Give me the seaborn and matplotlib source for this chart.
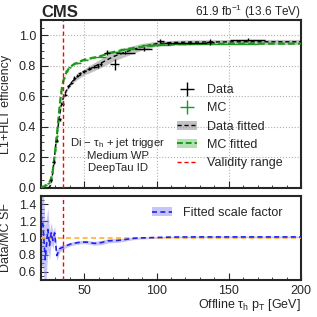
import numpy as np
import pandas as pd
import matplotlib
matplotlib.use("Agg")
import matplotlib.pyplot as plt
import seaborn as sns
from matplotlib.lines import Line2D
from matplotlib.patches import Patch
from matplotlib.ticker import MultipleLocator

# ---------------- data ----------------
data_x = [27, 29, 31, 33, 35, 37, 39, 41, 43, 45, 47, 50, 53.5, 57, 59.5, 61.5, 65.5, 71, 78.5, 91, 102.5, 108, 123, 137, 163]
data_y = [0.05, 0.17, 0.31, 0.45, 0.55, 0.61, 0.665, 0.69, 0.72, 0.735, 0.75, 0.765, 0.78, 0.795, 0.80, 0.81, 0.886, 0.81, 0.886, 0.91, 0.963, 0.947, 0.95, 0.956, 0.97]
data_xerr = [1, 1, 1, 1, 1, 1, 1, 1, 1, 1, 1, 1.5, 1.5, 1.5, 1, 1, 2, 3, 6.5, 6, 2.5, 3, 12, 3, 12]
data_yerr = [0.01, 0.01, 0.01, 0.01, 0.01, 0.01, 0.01, 0.01, 0.01, 0.01, 0.01, 0.01, 0.01, 0.012, 0.012, 0.012, 0.015, 0.035, 0.012, 0.012, 0.012, 0.01, 0.01, 0.02, 0.01]

mc_x = [21, 23, 25, 27, 28, 29, 30, 31, 32, 33, 34, 36, 38, 40, 45, 50, 60, 70, 80, 100, 120, 150]
mc_y = [0.01, 0.02, 0.03, 0.06, 0.10, 0.17, 0.25, 0.34, 0.44, 0.54, 0.62, 0.72, 0.765, 0.79, 0.82, 0.84, 0.86, 0.89, 0.91, 0.935, 0.94, 0.945]
mc_xerr = [1, 1, 1, 0.5, 0.5, 0.5, 0.5, 0.5, 0.5, 0.5, 0.5, 1, 1, 1, 2.5, 2.5, 5, 5, 5, 10, 10, 20]
mc_yerr = [0.005] * 22

fit_x = [20, 22, 24, 26, 27, 28, 29, 30, 31, 32, 33, 34, 35, 36, 38, 40, 42, 45, 50, 55, 60, 65, 70, 80, 90, 100, 110, 120, 140, 160, 180, 200]
data_fit = [0.0, 0.0, 0.0, 0.005, 0.03, 0.09, 0.17, 0.26, 0.34, 0.41, 0.48, 0.535, 0.575, 0.605, 0.645, 0.675, 0.70, 0.725, 0.76, 0.785, 0.81, 0.835, 0.86, 0.895, 0.925, 0.945, 0.952, 0.955, 0.956, 0.957, 0.957, 0.957]
data_fit_err = [0.0, 0.0, 0.002, 0.005, 0.008, 0.01, 0.01, 0.01, 0.01, 0.01, 0.01, 0.01, 0.01, 0.01, 0.012, 0.012, 0.014, 0.016, 0.02, 0.025, 0.028, 0.03, 0.03, 0.028, 0.022, 0.016, 0.014, 0.014, 0.015, 0.016, 0.016, 0.016]
mc_fit = [0.0, 0.01, 0.02, 0.04, 0.06, 0.10, 0.17, 0.25, 0.34, 0.44, 0.54, 0.62, 0.68, 0.72, 0.765, 0.79, 0.805, 0.82, 0.84, 0.85, 0.86, 0.875, 0.89, 0.91, 0.925, 0.935, 0.94, 0.942, 0.944, 0.945, 0.945, 0.945]
mc_fit_err = [0.003] * 32

sf_x = [20, 21.4, 23, 24.8, 26, 27.1, 28.3, 29.5, 31, 32.9, 35.2, 38, 41, 44, 47.9, 52, 57, 62, 66.3, 73.2, 80, 84.8, 90, 100, 110, 130, 150, 175, 200]
sf_y = [1.28, 1.16, 0.74, 1.10, 0.91, 1.06, 0.97, 1.06, 0.79, 0.87, 0.89, 0.91, 0.93, 0.94, 0.95, 0.95, 0.935, 0.945, 0.965, 0.97, 0.985, 0.996, 1.0, 1.005, 1.01, 1.012, 1.012, 1.012, 1.012]
sf_err = [0.6, 0.5, 0.4, 0.25, 0.17, 0.12, 0.1, 0.08, 0.06, 0.04, 0.025, 0.02, 0.02, 0.02, 0.02, 0.02, 0.022, 0.025, 0.025, 0.022, 0.018, 0.015, 0.012, 0.01, 0.01, 0.01, 0.01, 0.01, 0.01]

validity = 35

# ---------------- style ----------------
sns.set_style("ticks")
plt.rcParams['font.family'] = ['Liberation Sans', 'DejaVu Sans']
plt.rcParams['mathtext.fontset'] = 'custom'
plt.rcParams['mathtext.rm'] = 'Liberation Sans'
plt.rcParams['mathtext.it'] = 'Liberation Sans:italic'
plt.rcParams['mathtext.bf'] = 'Liberation Sans:bold'

fig = plt.figure(figsize=(3.17, 3.17), dpi=100)
ax1 = fig.add_axes([0.129, 0.407, 0.821, 0.530])
ax2 = fig.add_axes([0.129, 0.117, 0.821, 0.265])

fit_df = pd.DataFrame({"x": fit_x, "data": data_fit, "mc": mc_fit})
sf_df = pd.DataFrame({"x": sf_x, "sf": sf_y})

# ---- top panel ----
ax1.fill_between(fit_x, np.array(data_fit) - np.array(data_fit_err), np.array(data_fit) + np.array(data_fit_err),
                 color='#9a9a9a', alpha=0.6, lw=0, zorder=2)
ax1.fill_between(fit_x, np.array(mc_fit) - np.array(mc_fit_err), np.array(mc_fit) + np.array(mc_fit_err),
                 color='#7fcc7f', alpha=0.6, lw=0, zorder=2)
sns.lineplot(data=fit_df, x="x", y="data", ax=ax1, color='black', lw=1.0, linestyle=(0, (3, 2)), zorder=3)
sns.lineplot(data=fit_df, x="x", y="mc", ax=ax1, color='#1a9a1a', lw=1.6, linestyle=(0, (3, 1.5)), zorder=4)
ax1.errorbar(mc_x, mc_y, xerr=mc_xerr, yerr=mc_yerr, fmt='none', ecolor='#1a9a1a', elinewidth=1.0, zorder=5)
ax1.errorbar(data_x, data_y, xerr=data_xerr, yerr=data_yerr, fmt='none', ecolor='black', elinewidth=1.0, zorder=6)
ax1.axvline(validity, color='red', lw=1.0, linestyle=(0, (3, 2)), zorder=7)

ax1.set_xlim(20, 200)
ax1.set_ylim(0, 1.1)
ax1.set_xlabel("")
ax1.set_ylabel("L1+HLT efficiency", fontsize=9)
ax1.yaxis.set_label_coords(-0.11, 0.5)
ax1.xaxis.set_major_locator(MultipleLocator(50))
ax1.xaxis.set_minor_locator(MultipleLocator(10))
ax1.yaxis.set_major_locator(MultipleLocator(0.2))
ax1.yaxis.set_minor_locator(MultipleLocator(0.05))
ax1.tick_params(axis='both', which='both', direction='in')
ax1.tick_params(axis='both', which='major', length=5, labelsize=9)
ax1.tick_params(axis='both', which='minor', length=2.5)
ax1.tick_params(axis='x', labelbottom=False)
ax1.grid(True, which='major', color='#b0b0b0', linestyle=':', lw=0.8)
for s in ax1.spines.values():
    s.set_linewidth(1.5)
    s.set_visible(True)

ax1.text(0.295, 0.2, "Di $-$ τ$_{\\rm h}$ + jet trigger\nMedium WP\nDeepTau ID",
         transform=ax1.transAxes, ha='center', va='center', fontsize=8.2, linespacing=1.15)

handles = [
    Line2D([0], [0], color='black', marker='+', markersize=10, lw=0, markeredgewidth=1.0),
    Line2D([0], [0], color='#1a9a1a', marker='+', markersize=10, lw=0, markeredgewidth=1.0),
    (Patch(facecolor='#9a9a9a', alpha=0.6, lw=0), Line2D([0], [0], color='black', lw=1.0, linestyle=(0, (3, 2)))),
    (Patch(facecolor='#7fcc7f', alpha=0.6, lw=0), Line2D([0], [0], color='#1a9a1a', lw=1.4, linestyle=(0, (3, 1.5)))),
    Line2D([0], [0], color='red', lw=1.0, linestyle=(0, (3, 2))),
]
labels = ["Data", "MC", "Data fitted", "MC fitted", "Validity range"]
fig.legend(handles, labels, loc='upper left', bbox_to_anchor=(177 / 317, 1 - 84 / 317),
           frameon=False, fontsize=9, handlelength=1.6, handletextpad=0.8, labelspacing=0.5,
           borderpad=0, borderaxespad=0)

# ---- bottom panel ----
ax2.fill_between(sf_x, np.array(sf_y) - np.array(sf_err), np.array(sf_y) + np.array(sf_err),
                 color='#8c8cf0', alpha=0.5, lw=0, zorder=2)
sns.lineplot(data=sf_df, x="x", y="sf", ax=ax2, color='#2222ee', lw=1.2, linestyle=(0, (3, 2)), zorder=4)
ax2.axhline(1.0, color='#ffb030', lw=1.2, linestyle=(0, (3, 2)), zorder=3)
ax2.axvline(validity, color='red', lw=1.0, linestyle=(0, (3, 2)), zorder=5)
ax2.set_xlim(20, 200)
ax2.set_ylim(0.5, 1.5)
ax2.set_ylabel("Data/MC SF", fontsize=9)
ax2.yaxis.set_label_coords(-0.11, 0.5)
ax2.set_xlabel("Offline τ$_{\\rm h}$ p$_{\\rm T}$ [GeV]", fontsize=9)
ax2.xaxis.set_label_coords(1.0, -0.2)
ax2.xaxis.label.set_horizontalalignment('right')
ax2.xaxis.set_major_locator(MultipleLocator(50))
ax2.xaxis.set_minor_locator(MultipleLocator(10))
ax2.yaxis.set_major_locator(MultipleLocator(0.2))
ax2.yaxis.set_minor_locator(MultipleLocator(0.05))
ax2.tick_params(axis='both', which='both', direction='in')
ax2.tick_params(axis='both', which='major', length=5, labelsize=9)
ax2.tick_params(axis='both', which='minor', length=2.5)
for s in ax2.spines.values():
    s.set_linewidth(1.5)
    s.set_visible(True)

ax2.legend([(Patch(facecolor='#8c8cf0', alpha=0.5, lw=0), Line2D([0], [0], color='#2222ee', lw=1.2, linestyle=(0, (3, 2))))],
           ["Fitted scale factor"], loc='upper left', bbox_to_anchor=(152 / 317, 1 - 207 / 317),
           bbox_transform=fig.transFigure, frameon=False, fontsize=9, handlelength=1.6,
           handletextpad=0.9, borderpad=0, borderaxespad=0)

# ---- header ----
fig.text(41 / 317, 1 - 17 / 317, "CMS", fontsize=12, fontweight='bold', ha='left', va='baseline')
fig.text(301 / 317, 1 - 16 / 317, "61.9 fb$^{-1}$ (13.6 TeV)", fontsize=8.5, ha='right', va='baseline')

fig.savefig("out.png", dpi=100)
